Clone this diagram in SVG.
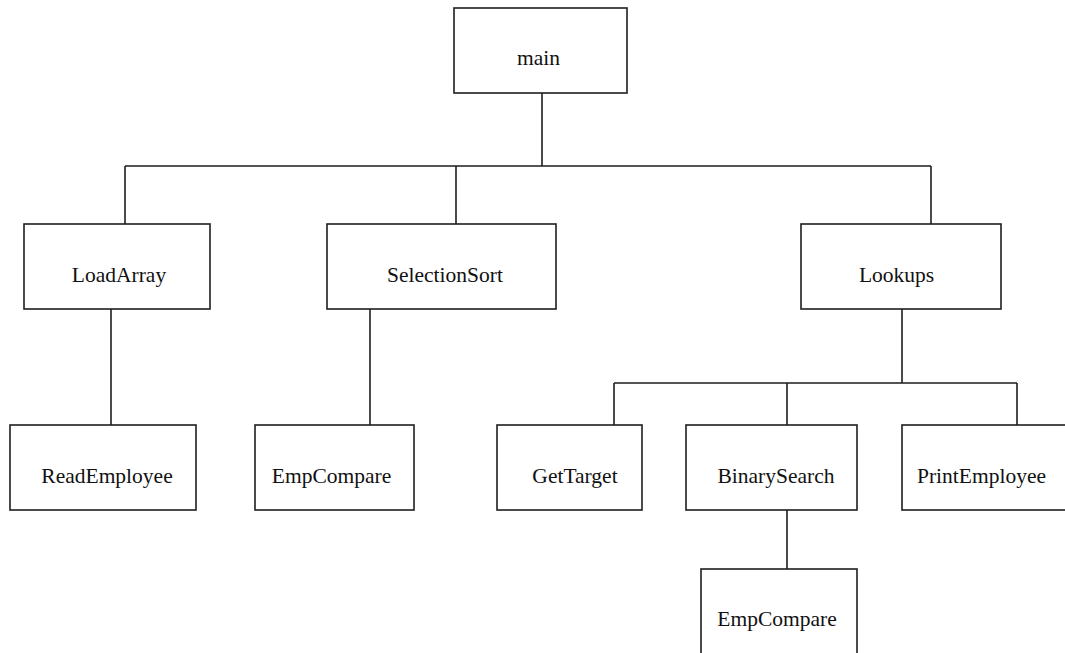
<svg xmlns="http://www.w3.org/2000/svg" width="1065" height="653" viewBox="0 0 1065 653">
  <style>
    .box { fill: #ffffff; stroke: #1e1e1e; stroke-width: 1.6; }
    .wire { fill: none; stroke: #1e1e1e; stroke-width: 1.6; }
    .label { font-family: "Liberation Serif", "Times New Roman", serif; font-size: 21.5px; fill: #111111; text-anchor: middle; }
  </style>
  <rect width="1065" height="653" fill="#ffffff"/>

  <!-- connectors of the call tree -->
  <g id="connectors">
    <path class="wire" d="M542 93 V166 M125 166 H931 M125 166 V224 M456 166 V224 M931 166 V224"/>
    <path class="wire" d="M111 309 V425"/>
    <path class="wire" d="M370 309 V425"/>
    <path class="wire" d="M902 309 V383 M614 383 H1017 M614 383 V425 M787 383 V425 M1017 383 V425"/>
    <path class="wire" d="M787 510 V569"/>
  </g>

  <g id="main">
    <rect class="box" x="454" y="8" width="173" height="85"/>
    <text class="label" x="538.5" y="65">main</text>
  </g>
  <g id="loadarray">
    <rect class="box" x="24" y="224" width="186" height="85"/>
    <text class="label" x="119" y="282">LoadArray</text>
  </g>
  <g id="selectionsort">
    <rect class="box" x="327" y="224" width="229" height="85"/>
    <text class="label" x="445" y="282">SelectionSort</text>
  </g>
  <g id="lookups">
    <rect class="box" x="801" y="224" width="200" height="85"/>
    <text class="label" x="896.5" y="282">Lookups</text>
  </g>
  <g id="reademployee">
    <rect class="box" x="10" y="425" width="186" height="85"/>
    <text class="label" x="107" y="483">ReadEmployee</text>
  </g>
  <g id="empcompare-sort">
    <rect class="box" x="255" y="425" width="159" height="85"/>
    <text class="label" x="331.5" y="483">EmpCompare</text>
  </g>
  <g id="gettarget">
    <rect class="box" x="497" y="425" width="145" height="85"/>
    <text class="label" x="575" y="483">GetTarget</text>
  </g>
  <g id="binarysearch">
    <rect class="box" x="686" y="425" width="171" height="85"/>
    <text class="label" x="776" y="483">BinarySearch</text>
  </g>
  <g id="printemployee">
    <rect class="box" x="902" y="425" width="166" height="85"/>
    <text class="label" x="981.5" y="483">PrintEmployee</text>
  </g>
  <g id="empcompare-search">
    <rect class="box" x="701" y="569" width="156" height="85"/>
    <text class="label" x="777" y="626">EmpCompare</text>
  </g>
</svg>
